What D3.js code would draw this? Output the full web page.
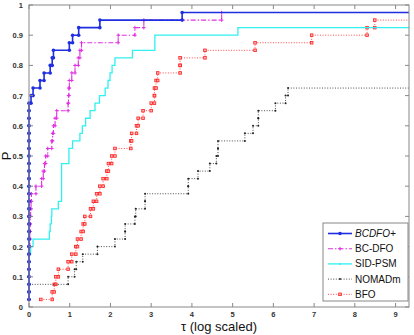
<!DOCTYPE html>
<html>
<head>
<meta charset="utf-8">
<script src="https://cdn.jsdelivr.net/npm/d3@7"></script>
<style>
  body { margin: 0; background: #fff; }
  svg { display: block; font-family: "Liberation Sans", Arial, sans-serif; }
</style>
</head>
<body>
<script>
// performance profile data: log-scaled ratio tau for each solved problem (40 problems)
var nProblems = 40;
var solvers = ["BCDFO+", "BC-DFO", "SID-PSM", "NOMADm", "BFO"];

var tauBCDFOplus = [0,0,0,0,0,0,0,0,0,0,0,0,0,0,0,0,0,0,0,0,0,0,0,0,0,0,0,
  0.05,0.1,0.27,0.37,0.52,0.57,0.6,0.99,1.07,1.22,1.74,3.76];
var tauBCDFO = [0,0,0,0,0,0,0,0,0.02,0.02,0.03,0.03,0.04,0.05,0.06,
  0.17,0.31,0.35,0.38,0.41,0.46,0.56,0.58,0.6,0.64,0.68,0.96,0.97,0.98,0.99,
  1.05,1.13,1.21,1.25,1.29,2.19,2.6,2.82,4.73];
var tauSIDPSM = [0,0,0,0,0,0,0,0.04,0.1,0.5,0.52,0.55,0.56,0.72,0.8,0.8,0.8,0.8,0.8,
  0.98,0.98,1.07,1.25,1.31,1.39,1.5,1.62,1.73,1.87,1.94,1.99,2.04,2.11,2.54,3.09,3.09,5.13];
var tauNOMADm = [0,0,0,0.96,1.12,1.16,1.32,1.68,2.11,2.36,2.36,2.6,2.62,2.85,2.85,
  3.91,3.91,4.15,4.44,4.6,4.64,4.64,5.3,5.5,5.63,5.63,6.05,6.3,6.36];
var tauBFO = [0.29,0.57,0.62,0.66,0.72,0.96,1.05,1.15,1.19,1.28,1.33,1.37,1.51,1.58,
  1.66,1.74,1.82,1.91,1.95,2.03,2.11,2.5,2.52,2.64,2.68,2.8,3.0,3.08,3.08,3.12,3.16,
  3.71,3.71,4.32,5.55,6.94,8.3,8.49];

var xTicks = [0,1,2,3,4,5,6,7,8,9];
var yTicks = [0,0.1,0.2,0.3,0.4,0.5,0.6,0.7,0.8,0.9,1];
var tauMax = 9.33;

var styles = [
  {data: tauBCDFOplus, color: "#1f2fe0", width: 1.6, dash: null, marker: "dot"},
  {data: tauBCDFO, color: "#e030e0", width: 1.1, dash: "5,2,1.5,2", marker: "plus"},
  {data: tauSIDPSM, color: "#30f0f0", width: 1.3, dash: null, marker: "none"},
  {data: tauNOMADm, color: "#222", width: 0.8, dash: "1,1.6", marker: "small"},
  {data: tauBFO, color: "#ff2020", width: 0.8, dash: "1,1.6", marker: "square"}
];

var W = 414, H = 335;
var plotL = 29, plotR = 409, plotT = 5, plotB = 307;

var svg = d3.select("body").append("svg").attr("width", W).attr("height", H);

var x = d3.scaleLinear().domain([0, tauMax]).range([plotL, plotR]);
var y = d3.scaleLinear().domain([0, 1]).range([plotB, plotT]);

// stair vertices
function vertices(taus){
  var pts = [];
  for (var i = 0; i < taus.length; i++){
    if (i > 0) pts.push([taus[i], i / nProblems]);
    pts.push([taus[i], (i + 1) / nProblems]);
  }
  pts.push([tauMax, taus.length / nProblems]);
  return pts;
}

var line = d3.line().x(function(d){ return x(d[0]); }).y(function(d){ return y(d[1]); });

var plot = svg.append("g");

function drawMarker(g, type, cx, cy, color){
  if (type == "dot"){
    g.append("circle").attr("cx", cx).attr("cy", cy).attr("r", 1.8).attr("fill", color);
  } else if (type == "plus"){
    g.append("path").attr("d", "M" + (cx-1.8) + "," + cy + "h3.6M" + cx + "," + (cy-1.8) + "v3.6")
      .attr("stroke", color).attr("stroke-width", 1);
  } else if (type == "small"){
    g.append("circle").attr("cx", cx).attr("cy", cy).attr("r", 1).attr("fill", color);
  } else if (type == "square"){
    g.append("rect").attr("x", cx-1.3).attr("y", cy-1.3).attr("width", 2.6).attr("height", 2.6)
      .attr("fill", "#ffb0b0").attr("stroke", color).attr("stroke-width", 0.8);
  }
}

// draw in reverse so BCDFO+ ends on top
for (var s = styles.length - 1; s >= 0; s--){
  var st = styles[s];
  var pts = vertices(st.data);
  plot.append("path").attr("d", line(pts)).attr("fill", "none")
    .attr("stroke", st.color).attr("stroke-width", st.width)
    .attr("stroke-dasharray", st.dash);
  var mg = plot.append("g");
  pts.slice(0, -1).forEach(function(p){
    drawMarker(mg, st.marker, x(p[0]), y(p[1]), st.color);
  });
}

// frame and inward ticks
var axisColor = "#888";
svg.append("rect").attr("x", plotL).attr("y", plotT).attr("width", plotR - plotL).attr("height", plotB - plotT)
  .attr("fill", "none").attr("stroke", axisColor).attr("stroke-width", 1);

var tl = 4;
xTicks.forEach(function(t){
  svg.append("line").attr("x1", x(t)).attr("x2", x(t)).attr("y1", plotB).attr("y2", plotB - tl).attr("stroke", axisColor);
  svg.append("line").attr("x1", x(t)).attr("x2", x(t)).attr("y1", plotT).attr("y2", plotT + tl).attr("stroke", axisColor);
  svg.append("text").attr("x", x(t)).attr("y", 317).attr("text-anchor", "middle")
    .attr("font-size", 7.5).attr("font-weight", "bold").attr("fill", "#333").text(t);
});
yTicks.forEach(function(t){
  svg.append("line").attr("x1", plotL).attr("x2", plotL + tl).attr("y1", y(t)).attr("y2", y(t)).attr("stroke", axisColor);
  svg.append("line").attr("x1", plotR).attr("x2", plotR - tl).attr("y1", y(t)).attr("y2", y(t)).attr("stroke", axisColor);
  svg.append("text").attr("x", 23).attr("y", y(t) + 3).attr("text-anchor", "end")
    .attr("font-size", 7.5).attr("font-weight", "bold").attr("fill", "#333").text(t);
});

svg.append("text").attr("x", (plotL + plotR) / 2).attr("y", 331).attr("text-anchor", "middle")
  .attr("font-size", 13).attr("fill", "#111").text("\u03c4 (log scaled)");
svg.append("text").attr("transform", "translate(11," + ((plotT + plotB) / 2) + ") rotate(-90)")
  .attr("text-anchor", "middle").attr("font-size", 13).attr("fill", "#111").text("P");

// legend
var lg = svg.append("g");
lg.append("rect").attr("x", 323).attr("y", 223).attr("width", 85).attr("height", 78)
  .attr("fill", "#fff").attr("stroke", axisColor);
solvers.forEach(function(name, i){
  var st = styles[i];
  var ly = 233.5 + i * 15.2;
  lg.append("line").attr("x1", 328).attr("x2", 352).attr("y1", ly).attr("y2", ly)
    .attr("stroke", st.color).attr("stroke-width", st.width).attr("stroke-dasharray", st.dash);
  drawMarker(lg, st.marker == "none" ? "small" : st.marker, 340, ly, st.color);
  lg.append("text").attr("x", 355).attr("y", ly + 3.5).attr("font-size", 10)
    .attr("font-style", i == 0 ? "italic" : null).attr("fill", "#111").text(name);
});
</script>
</body>
</html>
